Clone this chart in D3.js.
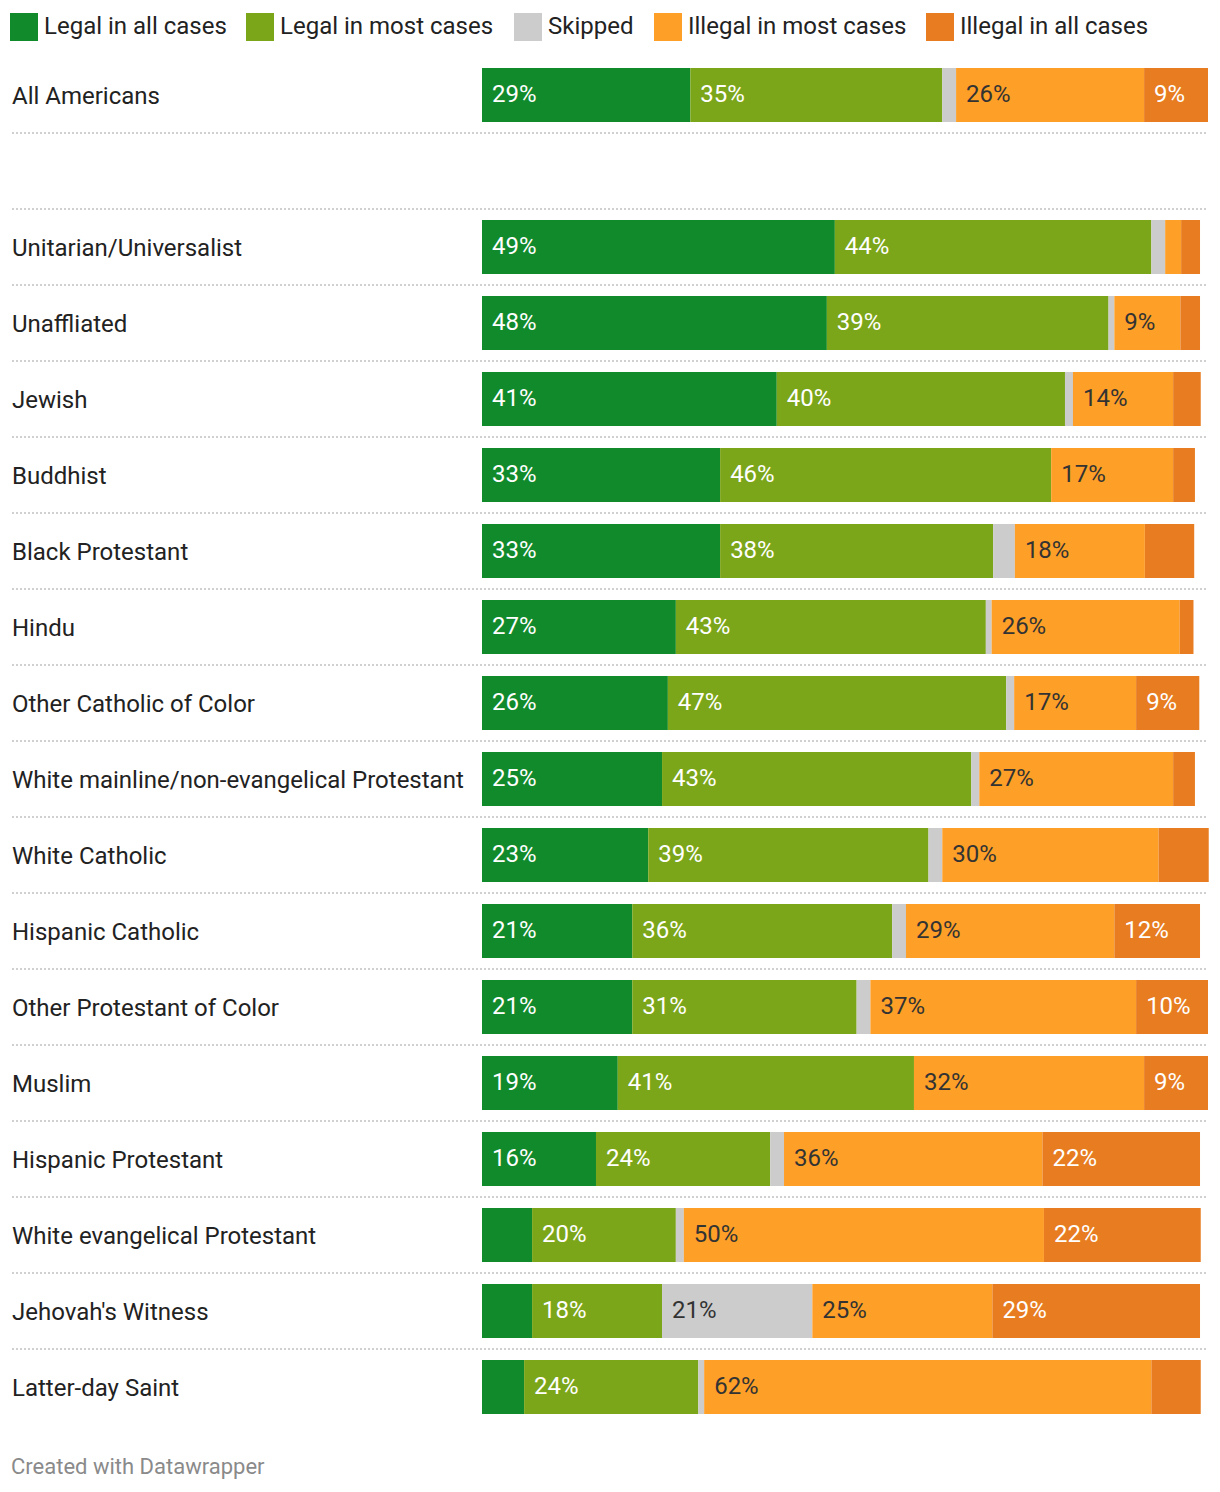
<!DOCTYPE html>
<html>
<head>
<meta charset="utf-8">
<script src="https://cdn.jsdelivr.net/npm/d3@7"></script>
<style>
  html, body { margin: 0; padding: 0; background: #fff; }
  svg { display: block; font-family: Roboto, "Noto Sans", sans-serif; }
</style>
</head>
<body>
<svg id="chart" width="1220" height="1492"></svg>
<script>
const categories = [
  "All Americans",
  "Unitarian/Universalist",
  "Unaffliated",
  "Jewish",
  "Buddhist",
  "Black Protestant",
  "Hindu",
  "Other Catholic of Color",
  "White mainline/non-evangelical Protestant",
  "White Catholic",
  "Hispanic Catholic",
  "Other Protestant of Color",
  "Muslim",
  "Hispanic Protestant",
  "White evangelical Protestant",
  "Jehovah's Witness",
  "Latter-day Saint"
];
const seriesNames = ["Legal in all cases", "Legal in most cases", "Skipped", "Illegal in most cases", "Illegal in all cases"];
const legalAll    = [28.7, 48.6, 47.5, 40.6, 32.8, 32.8, 26.7, 25.6, 24.8, 22.9, 20.7, 20.7, 18.7, 15.7, 6.9, 6.9, 5.8];
const legalMost   = [34.7, 43.6, 38.8, 39.7, 45.6, 37.6, 42.7, 46.6, 42.6, 38.6, 35.8, 30.9, 40.8, 24.0, 19.8, 17.9, 24.0];
const skipped     = [1.9, 1.9, 0.8, 1.1, 0, 3.0, 0.8, 1.1, 1.1, 1.9, 1.9, 1.9, 0, 1.9, 1.1, 20.7, 0.8];
const illegalMost = [25.9, 2.2, 9.1, 13.8, 16.8, 17.9, 25.9, 16.8, 26.7, 29.8, 28.7, 36.6, 31.7, 35.6, 49.6, 24.8, 61.6];
const illegalAll  = [8.8, 2.6, 2.7, 3.8, 3.0, 6.8, 1.9, 8.7, 3.0, 6.9, 11.8, 9.9, 8.8, 21.7, 21.6, 28.6, 6.8];
const footerText = "Created with Datawrapper";

const colors = ["#118a2c", "#7ca61a", "#cccccc", "#fe9f27", "#e77c21"];
const labelColors = ["#ffffff", "#ffffff", "#333333", "#333333", "#ffffff"];
const seriesValues = [legalAll, legalMost, skipped, illegalMost, illegalAll];

// rows with a blank spacer after the first row
const rows = categories.map((c, i) => ({ name: c, slot: i === 0 ? 0 : i + 1, vals: seriesValues.map(s => s[i]) }));
const nSlots = categories.length + 1;

const svg = d3.select("#chart");
const x = d3.scaleLinear().domain([0, 100]).range([482, 1208]);
const y = d3.scaleBand().domain(d3.range(nSlots)).range([68, 68 + 76 * (nSlots - 22 / 76)]).paddingInner(22 / 76).paddingOuter(0);

// legend
const legendX = [10, 246, 514, 654, 926];
const lg = svg.append("g");
seriesNames.forEach((n, i) => {
  lg.append("rect").attr("x", legendX[i]).attr("y", 13).attr("width", 28).attr("height", 28).attr("fill", colors[i]);
  lg.append("text").attr("x", legendX[i] + 34).attr("y", 26).attr("dy", "0.35em")
    .attr("font-size", 24).attr("fill", "#222").text(n);
});

// separators
for (let s = 0; s < nSlots - 1; s++) {
  const yy = y(s) + y.bandwidth() + 11;
  svg.append("line").attr("x1", 12).attr("x2", 1208).attr("y1", yy).attr("y2", yy)
    .attr("stroke", "#d0d0d0").attr("stroke-width", 2).attr("stroke-dasharray", "2,2");
}

// rows
const rowG = svg.selectAll("g.row").data(rows).join("g").attr("class", "row")
  .attr("transform", d => `translate(0,${y(d.slot)})`);

rowG.append("text").attr("x", 12).attr("y", y.bandwidth() / 2 + 1).attr("dy", "0.35em")
  .attr("font-size", 24).attr("fill", "#222").text(d => d.name);

rowG.each(function(d) {
  const g = d3.select(this);
  let acc = 0;
  d.vals.forEach((v, k) => {
    const x0 = x(acc), x1 = x(acc + v);
    acc += v;
    if (v <= 0) return;
    g.append("rect").attr("x", x0).attr("y", 0).attr("width", x1 - x0).attr("height", y.bandwidth()).attr("fill", colors[k]);
    if (v >= 8) {
      g.append("text").attr("x", x0 + 10).attr("y", y.bandwidth() / 2 - 1).attr("dy", "0.35em")
        .attr("font-size", 24).attr("fill", labelColors[k]).text(d3.format(".0f")(v) + "%");
    }
  });
});

svg.append("text").attr("x", 11).attr("y", 1466).attr("dy", "0.35em")
  .attr("font-size", 22).attr("fill", "#8a8a8a").text(footerText);
</script>
</body>
</html>
